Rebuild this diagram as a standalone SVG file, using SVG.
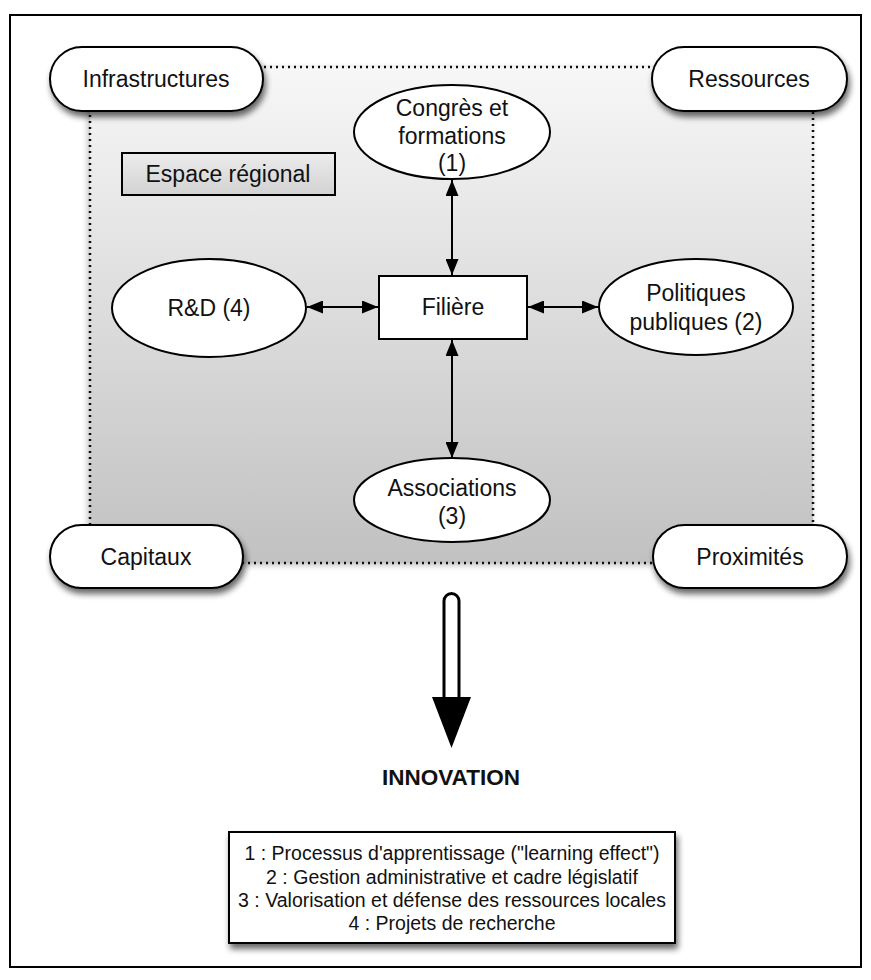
<svg xmlns="http://www.w3.org/2000/svg" width="871" height="980" viewBox="0 0 871 980">
<style>
text{font-family:"Liberation Sans",Arial,sans-serif;fill:#111;text-anchor:middle;dominant-baseline:central}
.lbl{font-size:23px}
.leg{font-size:19.5px}
.pill{fill:#fff;stroke:#000;stroke-width:2}
.ell{fill:#fff;stroke:#000;stroke-width:2}
.conn{stroke:#000;stroke-width:2;fill:none;marker-start:url(#ah);marker-end:url(#ah)}
</style>
<defs>
<linearGradient id="reg" x1="0" y1="0" x2="0" y2="1">
<stop offset="0" stop-color="#f7f7f7"/>
<stop offset="1" stop-color="#c1c1c1"/>
</linearGradient>
<linearGradient id="esp" x1="0" y1="0" x2="0" y2="1">
<stop offset="0" stop-color="#ececec"/>
<stop offset="1" stop-color="#d2d2d2"/>
</linearGradient>
<filter id="sh" x="-20%" y="-20%" width="140%" height="160%">
<feGaussianBlur in="SourceAlpha" stdDeviation="3"/>
<feOffset dx="2" dy="5" result="b"/>
<feComponentTransfer><feFuncA type="linear" slope="0.6"/></feComponentTransfer>
<feMerge><feMergeNode/><feMergeNode in="SourceGraphic"/></feMerge>
</filter>
<filter id="sh2" x="-5%" y="-5%" width="110%" height="110%">
<feGaussianBlur in="SourceAlpha" stdDeviation="3"/>
<feOffset dx="-2" dy="2"/>
<feComponentTransfer><feFuncA type="linear" slope="0.25"/></feComponentTransfer>
<feMerge><feMergeNode/><feMergeNode in="SourceGraphic"/></feMerge>
</filter>
<marker id="ah" viewBox="0 0 16 13" refX="16" refY="6.5" markerWidth="16" markerHeight="13" markerUnits="userSpaceOnUse" orient="auto-start-reverse">
<path d="M0,0 L16,6.5 L0,13 Z" fill="#000"/>
</marker>
</defs>

<rect x="0" y="0" width="871" height="980" fill="#fff"/>
<rect x="10" y="15" width="851" height="952" fill="#fff" stroke="#000" stroke-width="2"/>

<g id="espace-regional-zone">
<rect x="90" y="67" width="723" height="496" fill="url(#reg)" stroke="#111" stroke-width="2.5" stroke-dasharray="2,4" filter="url(#sh2)"/>
</g>

<g id="espace-regional">
<rect x="122" y="153" width="213" height="42" fill="url(#esp)" stroke="#000" stroke-width="2"/>
<text class="lbl" x="228" y="174">Espace régional</text>
</g>

<g id="infrastructures">
<rect class="pill" x="50" y="47" width="213" height="64" rx="32" filter="url(#sh)"/>
<text class="lbl" x="156" y="79">Infrastructures</text>
</g>
<g id="ressources">
<rect class="pill" x="652" y="47" width="195" height="64" rx="32" filter="url(#sh)"/>
<text class="lbl" x="749" y="79">Ressources</text>
</g>
<g id="capitaux">
<rect class="pill" x="50" y="525" width="193" height="63" rx="31.5" filter="url(#sh)"/>
<text class="lbl" x="146" y="557">Capitaux</text>
</g>
<g id="proximites">
<rect class="pill" x="653" y="525" width="194" height="63" rx="31.5" filter="url(#sh)"/>
<text class="lbl" x="750" y="557">Proximités</text>
</g>

<g id="connectors">
<line class="conn" x1="452" y1="180" x2="452" y2="275"/>
<line class="conn" x1="452" y1="340" x2="452" y2="458"/>
<line class="conn" x1="307" y1="307" x2="378" y2="307"/>
<line class="conn" x1="528" y1="307" x2="598" y2="307"/>
</g>

<g id="congres">
<ellipse class="ell" cx="452" cy="132" rx="98" ry="47"/>
<text class="lbl" x="452" y="108">Congrès et</text>
<text class="lbl" x="452" y="136">formations</text>
<text class="lbl" x="452" y="163">(1)</text>
</g>
<g id="rd">
<ellipse class="ell" cx="209" cy="308" rx="97" ry="49"/>
<text class="lbl" x="209" y="308">R&amp;D (4)</text>
</g>
<g id="filiere">
<rect x="379" y="276" width="148" height="63" fill="#fff" stroke="#000" stroke-width="2"/>
<text class="lbl" x="453" y="307">Filière</text>
</g>
<g id="politiques">
<ellipse class="ell" cx="696" cy="307" rx="97" ry="48"/>
<text class="lbl" x="696" y="293">Politiques</text>
<text class="lbl" x="696" y="322">publiques (2)</text>
</g>
<g id="associations">
<ellipse class="ell" cx="452" cy="500" rx="98" ry="42"/>
<text class="lbl" x="452" y="488">Associations</text>
<text class="lbl" x="452" y="516">(3)</text>
</g>

<g id="big-arrow">
<path d="M444,697 L444,601 A7.5,7.5 0 0 1 459,601 L459,697" fill="#fff" stroke="#000" stroke-width="3"/>
<path d="M432,697 L471,697 L451.5,748 Z" fill="#000"/>
</g>

<g id="innovation">
<text x="451" y="777" style="font-size:22.5px;font-weight:bold">INNOVATION</text>
</g>

<g id="legende">
<rect x="229" y="832" width="446" height="111" fill="#fff" stroke="#000" stroke-width="2" filter="url(#sh)"/>
<text class="leg" x="452" y="853">1 : Processus d'apprentissage ("learning effect")</text>
<text class="leg" x="452" y="877">2 : Gestion administrative et cadre législatif</text>
<text class="leg" x="452" y="900">3 : Valorisation et défense des ressources locales</text>
<text class="leg" x="452" y="923">4 : Projets de recherche</text>
</g>
</svg>
